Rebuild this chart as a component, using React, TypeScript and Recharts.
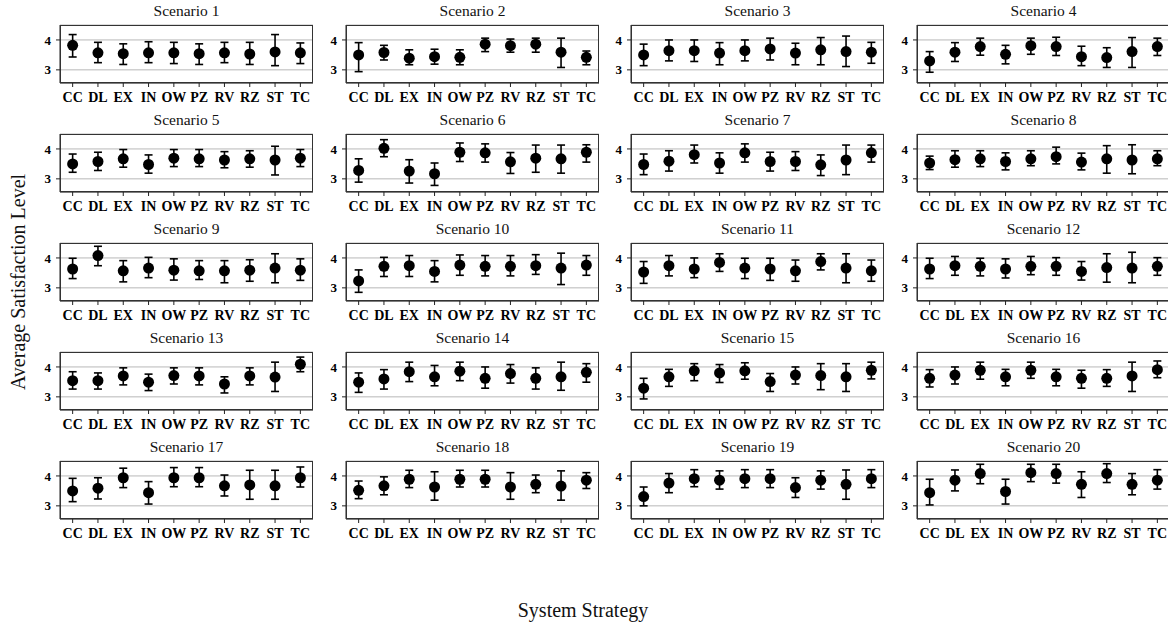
import React from 'react'
import { ScatterChart, Scatter, XAxis, YAxis, CartesianGrid, ErrorBar } from 'recharts'

const categories = ['CC', 'DL', 'EX', 'IN', 'OW', 'PZ', 'RV', 'RZ', 'ST', 'TC']
const yTicks = [3, 4]

// mean satisfaction per scenario (rows) and strategy (columns)
const means: number[][] = [
  [3.82, 3.57, 3.54, 3.57, 3.57, 3.54, 3.57, 3.53, 3.6, 3.57],
  [3.5, 3.58, 3.39, 3.44, 3.42, 3.86, 3.81, 3.86, 3.59, 3.42],
  [3.5, 3.64, 3.64, 3.56, 3.64, 3.7, 3.56, 3.67, 3.61, 3.59],
  [3.3, 3.59, 3.78, 3.52, 3.81, 3.78, 3.44, 3.41, 3.61, 3.78],
  [3.5, 3.58, 3.67, 3.48, 3.69, 3.67, 3.63, 3.67, 3.63, 3.69],
  [3.28, 4.02, 3.26, 3.17, 3.89, 3.87, 3.57, 3.69, 3.67, 3.89],
  [3.48, 3.59, 3.81, 3.53, 3.87, 3.58, 3.58, 3.47, 3.63, 3.87],
  [3.53, 3.64, 3.67, 3.58, 3.67, 3.74, 3.56, 3.67, 3.63, 3.67],
  [3.63, 4.08, 3.57, 3.66, 3.59, 3.57, 3.57, 3.59, 3.66, 3.59],
  [3.23, 3.72, 3.74, 3.55, 3.76, 3.72, 3.72, 3.74, 3.66, 3.76],
  [3.53, 3.74, 3.63, 3.85, 3.66, 3.63, 3.57, 3.88, 3.66, 3.57],
  [3.63, 3.74, 3.72, 3.63, 3.72, 3.72, 3.55, 3.68, 3.66, 3.72],
  [3.54, 3.54, 3.7, 3.49, 3.71, 3.7, 3.43, 3.7, 3.66, 4.09],
  [3.49, 3.6, 3.84, 3.67, 3.86, 3.62, 3.78, 3.62, 3.67, 3.82],
  [3.29, 3.67, 3.87, 3.8, 3.87, 3.51, 3.73, 3.71, 3.67, 3.89],
  [3.62, 3.73, 3.89, 3.67, 3.89, 3.67, 3.62, 3.62, 3.7, 3.91],
  [3.5, 3.59, 3.94, 3.44, 3.94, 3.94, 3.67, 3.7, 3.67, 3.94],
  [3.52, 3.67, 3.89, 3.63, 3.89, 3.89, 3.63, 3.72, 3.66, 3.86],
  [3.31, 3.76, 3.91, 3.86, 3.91, 3.91, 3.61, 3.86, 3.72, 3.91],
  [3.44, 3.86, 4.08, 3.48, 4.11, 4.08, 3.72, 4.08, 3.72, 3.86],
]

// lower end of each error bar
const lows: number[][] = [
  [3.43, 3.24, 3.18, 3.24, 3.21, 3.18, 3.24, 3.18, 3.14, 3.21],
  [2.94, 3.33, 3.17, 3.19, 3.17, 3.61, 3.59, 3.59, 3.08, 3.17],
  [3.14, 3.3, 3.28, 3.17, 3.3, 3.33, 3.17, 3.17, 3.11, 3.22],
  [2.92, 3.28, 3.49, 3.2, 3.52, 3.48, 3.14, 3.08, 3.08, 3.48],
  [3.22, 3.28, 3.39, 3.19, 3.41, 3.41, 3.37, 3.39, 3.13, 3.41],
  [2.89, 3.74, 2.86, 2.78, 3.58, 3.56, 3.18, 3.22, 3.19, 3.56],
  [3.14, 3.26, 3.53, 3.19, 3.56, 3.26, 3.28, 3.11, 3.14, 3.56],
  [3.31, 3.39, 3.41, 3.3, 3.44, 3.5, 3.3, 3.19, 3.17, 3.44],
  [3.31, 3.74, 3.2, 3.34, 3.26, 3.28, 3.17, 3.22, 3.17, 3.25],
  [2.85, 3.38, 3.38, 3.2, 3.42, 3.4, 3.4, 3.45, 3.11, 3.42],
  [3.15, 3.4, 3.34, 3.55, 3.31, 3.25, 3.22, 3.6, 3.17, 3.22],
  [3.31, 3.42, 3.4, 3.33, 3.44, 3.42, 3.26, 3.19, 3.17, 3.42],
  [3.26, 3.26, 3.4, 3.21, 3.43, 3.4, 3.13, 3.4, 3.18, 3.84],
  [3.15, 3.26, 3.51, 3.37, 3.54, 3.29, 3.46, 3.26, 3.22, 3.49],
  [2.93, 3.35, 3.54, 3.48, 3.59, 3.18, 3.43, 3.24, 3.18, 3.6],
  [3.33, 3.43, 3.59, 3.37, 3.62, 3.37, 3.29, 3.35, 3.18, 3.64],
  [3.14, 3.23, 3.61, 3.06, 3.64, 3.64, 3.33, 3.22, 3.22, 3.63],
  [3.24, 3.37, 3.61, 3.19, 3.63, 3.63, 3.22, 3.44, 3.19, 3.58],
  [3.0, 3.44, 3.64, 3.56, 3.61, 3.61, 3.28, 3.56, 3.22, 3.61],
  [3.03, 3.5, 3.74, 3.06, 3.81, 3.76, 3.28, 3.78, 3.37, 3.56],
]

// upper end of each error bar
const highs: number[][] = [
  [4.18, 3.92, 3.87, 3.94, 3.92, 3.87, 3.92, 3.92, 4.18, 3.9],
  [3.91, 3.82, 3.67, 3.69, 3.67, 4.06, 4.03, 4.06, 4.06, 3.63],
  [3.86, 4.0, 4.0, 3.91, 4.0, 4.06, 3.89, 4.08, 4.13, 3.92],
  [3.61, 3.91, 4.06, 3.82, 4.06, 4.09, 3.79, 3.74, 4.08, 4.06],
  [3.83, 3.89, 3.98, 3.8, 3.98, 3.98, 3.91, 3.94, 4.09, 3.98],
  [3.67, 4.31, 3.64, 3.53, 4.2, 4.17, 3.88, 4.13, 4.13, 4.14],
  [3.83, 3.94, 4.13, 3.87, 4.17, 3.89, 3.91, 3.8, 4.13, 4.13],
  [3.76, 3.94, 3.94, 3.87, 3.94, 4.06, 3.86, 4.11, 4.14, 3.94],
  [3.99, 4.39, 3.91, 4.02, 3.97, 3.91, 3.91, 3.94, 4.14, 3.97],
  [3.6, 4.02, 4.08, 3.91, 4.1, 4.08, 4.08, 4.11, 4.16, 4.08],
  [3.88, 4.08, 4.0, 4.14, 3.99, 3.99, 3.93, 4.14, 4.14, 3.93],
  [3.99, 4.05, 3.99, 3.97, 4.05, 4.01, 3.88, 4.14, 4.19, 4.01],
  [3.84, 3.8, 3.97, 3.76, 3.97, 3.97, 3.67, 3.97, 4.16, 4.33],
  [3.8, 3.91, 4.16, 4.05, 4.16, 4.0, 4.08, 3.97, 4.16, 4.11],
  [3.62, 3.92, 4.11, 4.08, 4.14, 3.78, 4.0, 4.11, 4.11, 4.16],
  [3.91, 4.0, 4.16, 3.92, 4.16, 3.92, 3.89, 3.91, 4.16, 4.2],
  [3.92, 3.94, 4.26, 3.81, 4.28, 4.28, 4.03, 4.19, 4.19, 4.3],
  [3.83, 3.97, 4.19, 4.14, 4.19, 4.19, 4.11, 4.03, 4.17, 4.11],
  [3.63, 4.08, 4.21, 4.17, 4.21, 4.21, 3.94, 4.17, 4.2, 4.21],
  [3.89, 4.2, 4.39, 3.89, 4.39, 4.39, 4.14, 4.41, 4.08, 4.21],
]

const FONT = '"Liberation Serif", "DejaVu Serif", serif'
const PANEL_LEFT = [60, 346, 631, 917]
const PANEL_TOP = [25, 134, 243, 352, 461]
const PLOT_W = 253
const PLOT_H = 58
const PAD_L = 40
const PAD_T = 25

function renderDot(props: any) {
  return <circle cx={props.cx} cy={props.cy} r={5.5} fill="#000" />
}

function Panel({ idx }: { idx: number }) {
  const row = Math.floor(idx / 4)
  const col = idx % 4
  const data = categories.map((name, i) => ({
    name,
    mean: means[idx][i],
    err: [means[idx][i] - lows[idx][i], highs[idx][i] - means[idx][i]],
  }))
  const w = PAD_L + PLOT_W + 10
  const h = PAD_T + PLOT_H + 30

  return (
    <div
      style={{
        position: 'absolute',
        left: PANEL_LEFT[col] - PAD_L,
        top: PANEL_TOP[row] - PAD_T,
        width: w,
        height: h,
      }}
    >
      <div
        style={{
          position: 'absolute',
          left: PAD_L,
          width: PLOT_W,
          top: 2,
          textAlign: 'center',
          fontFamily: FONT,
          fontSize: 15.5,
          color: '#111',
          lineHeight: '18px',
        }}
      >
        Scenario {idx + 1}
      </div>
      <ScatterChart width={w} height={h} margin={{ top: PAD_T, right: 10, bottom: 0, left: 0 }}>
        <CartesianGrid vertical={false} stroke="#b8b8b8" strokeWidth={1} />
        <XAxis
          type="category"
          dataKey="name"
          allowDuplicatedCategory={false}
          height={30}
          stroke="#222"
          tickSize={4}
          tickMargin={5}
          tick={{ fontSize: 14, fontWeight: 'bold', fill: '#000', fontFamily: FONT }}
          interval={0}
        />
        <YAxis
          type="number"
          dataKey="mean"
          domain={[2.56, 4.5]}
          ticks={yTicks}
          allowDataOverflow
          width={PAD_L}
          stroke="#222"
          tickSize={4}
          tickMargin={5}
          tick={{ fontSize: 13, fontWeight: 'bold', fill: '#000', fontFamily: FONT }}
        />
        <Scatter data={data} dataKey="mean" shape={renderDot} isAnimationActive={false}>
          <ErrorBar dataKey="err" direction="y" width={4} stroke="#000" strokeWidth={1.6} isAnimationActive={false} />
        </Scatter>
      </ScatterChart>
      <div
        style={{
          position: 'absolute',
          left: PAD_L,
          top: PAD_T,
          width: PLOT_W,
          height: PLOT_H,
          border: '1px solid #333',
          boxSizing: 'border-box',
          pointerEvents: 'none',
        }}
      />
    </div>
  )
}

export default function App() {
  return (
    <div
      style={{
        position: 'fixed',
        left: 0,
        top: 0,
        width: 1168,
        height: 625,
        overflow: 'hidden',
        background: '#fff',
      }}
    >
      {means.map((_, i) => (
        <Panel key={i} idx={i} />
      ))}
      <div
        style={{
          position: 'absolute',
          left: 18,
          top: 282,
          transform: 'translate(-50%, -50%) rotate(-90deg)',
          whiteSpace: 'nowrap',
          fontFamily: FONT,
          fontSize: 20,
          color: '#111',
        }}
      >
        Average Satisfaction Level
      </div>
      <div
        style={{
          position: 'absolute',
          left: 583,
          top: 610,
          transform: 'translate(-50%, -50%)',
          whiteSpace: 'nowrap',
          fontFamily: FONT,
          fontSize: 20,
          color: '#111',
        }}
      >
        System Strategy
      </div>
    </div>
  )
}
